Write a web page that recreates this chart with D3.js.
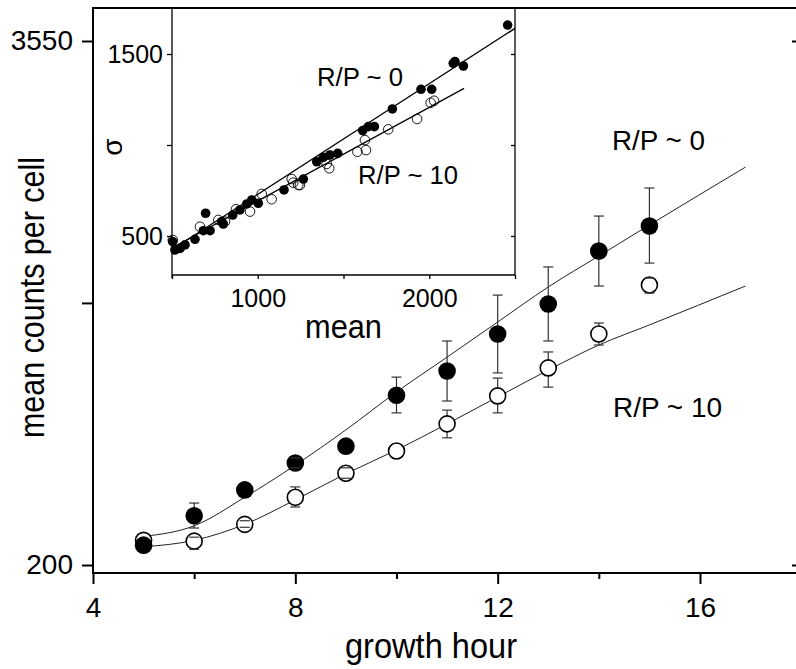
<!DOCTYPE html>
<html>
<head>
<meta charset="utf-8">
<script src="https://cdn.jsdelivr.net/npm/d3@7"></script>
<style>
  body { margin: 0; background: #fff; }
  text { font-family: "Liberation Sans", Arial, sans-serif; fill: #000; }
</style>
</head>
<body>
<div id="chart"></div>
<script>

// main plot: growth hour vs mean counts per cell
let hours = [5, 6, 7, 8, 9, 10, 11, 12, 13, 14, 15];
let meanRP0 = [223, 262, 302, 350, 384, 508, 580, 711, 838, 1121, 1286];
let lowRP0 = [null, 245, null, 341, null, 461, 492, 574, 684, 925, 1049];
let highRP0 = [null, 281, null, 360, null, 561, 684, 880, 1027, 1358, 1584];
let meanRP10 = [229, 228, 250, 290, 331, 374, 434, 506, 590, 711, 930];
let lowRP10 = [null, 218, 246, 275, 322, null, 402, 461, 531, 669, 890];
let highRP10 = [null, 233, 255, 307, 341, null, 468, 558, 644, 755, 966];

// fitted curves
let fitHours = [5, 6, 7, 8, 9, 10, 11, 12, 13, 14, 15, 16.9];
let fitRP0 = [234, 248, 290, 346, 420, 517, 626, 759, 920, 1091, 1293, 1777];
let fitRP10 = [221, 229, 250, 286, 330, 376, 434, 503, 583, 669, 747, 925];

let mainXMajor = [4, 8, 12, 16];
let mainXMinor = [6, 10, 14, 18];
let mainYTicks = [200, 843, 3550];
let mainYLabels = ["200", "", "3550"];

// inset: sigma vs mean
let insetMeanRP0 = [2457, 2140, 2150, 2199, 1952, 2014, 1785, 1612, 1645, 1680, 1466, 1421, 1382, 1344, 1266,
  1153, 1003, 965, 936, 896, 854, 799, 790, 696, 683, 722, 634, 576, 547, 517, 504];
let insetSigmaRP0 = [1659, 1449, 1458, 1434, 1306, 1306, 1198, 1079, 1101, 1101, 954, 945, 932, 908, 813,
  753, 680, 698, 676, 643, 615, 566, 579, 625, 529, 529, 482, 451, 432, 423, 469];
let insetMeanRP10 = [2028, 2008, 1929, 1761, 1625, 1631, 1581, 1417, 1402, 1246, 1207, 1198, 1236, 1081, 1023,
  955, 873, 809, 770, 663, 505];
let insetSigmaRP10 = [1243, 1232, 1143, 1086, 1027, 972, 963, 872, 896, 780, 793, 813, 780, 702, 731,
  634, 647, 579, 588, 551, 478];
let insetFitMean0 = [504, 2500];
let insetFitSigma0 = [427, 1641];
let insetFitMean10 = [504, 2203];
let insetFitSigma10 = [437, 1311];
let insetXTicks = [500, 1000, 1500, 2000, 2500];
let insetXLabels = ["", "1000", "", "2000", ""];
let insetYTicks = [500, 1000, 1500];
let insetYLabels = ["500", "", "1500"];

let width = 796;
let height = 669;
let font = "'Liberation Sans', Arial, sans-serif";

let frameLeft = 93;
let frameRight = 797;
let frameTop = 8;
let frameBottom = 573;

let svg = d3
  .select("#chart")
  .append("svg")
  .attr("width", width)
  .attr("height", height);

let xScale = d3.scaleLinear().domain([4, 16]).range([93, 700]);
let yScale = d3.scaleLog().domain([200, 3550]).range([565, 41]);

// frame
function frameLine(x1, y1, x2, y2, w) {
  svg.append("line")
    .attr("x1", x1).attr("y1", y1).attr("x2", x2).attr("y2", y2)
    .attr("stroke", "#000").attr("stroke-width", w);
}
frameLine(frameLeft, frameTop, frameLeft, frameBottom + 1, 2);
frameLine(frameLeft - 1, frameBottom, frameRight, frameBottom, 2);
frameLine(frameLeft - 1, frameTop, frameRight, frameTop, 2);
frameLine(frameRight, frameTop, frameRight, frameBottom, 2);

function styleAxis(g, size) {
  g.attr("font-size", size).attr("font-family", font);
  g.select(".domain").remove();
  g.selectAll(".tick line").attr("stroke", "#000").attr("stroke-width", 2);
}

svg.append("g")
  .attr("transform", "translate(0," + frameBottom + ")")
  .call(d3.axisBottom(xScale).tickValues(mainXMajor).tickSize(11).tickPadding(13).tickFormat(d3.format("d")))
  .call(styleAxis, 28);

svg.append("g")
  .attr("transform", "translate(0," + frameBottom + ")")
  .call(d3.axisBottom(xScale).tickValues(mainXMinor).tickSize(6).tickFormat(""))
  .call(styleAxis, 28);

svg.append("g")
  .attr("transform", "translate(" + frameLeft + ",0)")
  .call(d3.axisLeft(yScale).tickValues(mainYTicks).tickSize(11).tickPadding(9)
    .tickFormat(function(d, i) { return mainYLabels[i]; }))
  .call(styleAxis, 28);

svg.append("g")
  .attr("transform", "translate(" + frameRight + ",0)")
  .call(d3.axisLeft(yScale).tickValues([200, 3550]).tickSize(5).tickFormat(""))
  .call(styleAxis, 28);

// axis titles (glyphs in the source are a bit taller than wide)
svg.append("text")
  .attr("x", 345)
  .attr("y", 658)
  .attr("font-size", 35)
  .attr("textLength", 172)
  .attr("lengthAdjust", "spacingAndGlyphs")
  .text("growth hour");

svg.append("text")
  .attr("transform", "translate(44,438)rotate(-90)")
  .attr("font-size", 35)
  .attr("textLength", 281)
  .attr("lengthAdjust", "spacingAndGlyphs")
  .text("mean counts per cell");

// fitted curves
let fitLine = d3.line()
  .x(function(d) { return xScale(d[0]); })
  .y(function(d) { return yScale(d[1]); })
  .curve(d3.curveMonotoneX);

[fitRP0, fitRP10].forEach(function(series) {
  svg.append("path")
    .datum(fitHours.map(function(h, i) { return [h, series[i]]; }))
    .attr("d", fitLine)
    .attr("fill", "none")
    .attr("stroke", "#222")
    .attr("stroke-width", 1);
});

// error bars
let radius = 8;
let capHalf = 5;

function errorBars(means, lows, highs) {
  let rows = hours.map(function(h, i) {
    return { h: h, m: means[i], lo: lows[i], hi: highs[i] };
  }).filter(function(d) { return d.lo !== null; });

  svg.append("g").selectAll("line")
    .data(rows)
    .enter()
    .append("line")
    .attr("x1", function(d) { return xScale(d.h); })
    .attr("x2", function(d) { return xScale(d.h); })
    .attr("y1", function(d) { return yScale(d.lo); })
    .attr("y2", function(d) { return yScale(d.hi); })
    .attr("stroke", "#333")
    .attr("stroke-width", 1.2);
  return rows;
}

function errorCaps(rows) {
  let g = svg.append("g");
  rows.forEach(function(d) {
    [d.lo, d.hi].forEach(function(v) {
      g.append("line")
        .attr("x1", xScale(d.h) - capHalf)
        .attr("x2", xScale(d.h) + capHalf)
        .attr("y1", yScale(v))
        .attr("y2", yScale(v))
        .attr("stroke", "#333")
        .attr("stroke-width", 1.2);
    });
  });
}

let rows10 = errorBars(meanRP10, lowRP10, highRP10);
let rows0 = errorBars(meanRP0, lowRP0, highRP0);

svg.append("g").selectAll("circle")
  .data(hours)
  .enter()
  .append("circle")
  .attr("cx", function(d) { return xScale(d); })
  .attr("cy", function(d, i) { return yScale(meanRP10[i]); })
  .attr("r", radius)
  .attr("fill", "#fff")
  .attr("stroke", "#000")
  .attr("stroke-width", 1.6);

svg.append("g").selectAll("circle")
  .data(hours)
  .enter()
  .append("circle")
  .attr("cx", function(d) { return xScale(d); })
  .attr("cy", function(d, i) { return yScale(meanRP0[i]); })
  .attr("r", radius + 0.8)
  .attr("fill", "#000");

errorCaps(rows10);
errorCaps(rows0);

svg.append("text")
  .attr("x", 612).attr("y", 150)
  .attr("font-size", 28)
  .attr("textLength", 93)
  .attr("lengthAdjust", "spacingAndGlyphs")
  .text("R/P ~ 0");

svg.append("text")
  .attr("x", 613).attr("y", 417)
  .attr("font-size", 28)
  .attr("textLength", 109)
  .attr("lengthAdjust", "spacingAndGlyphs")
  .text("R/P ~ 10");

// ---------- inset ----------
let insetLeft = 172;
let insetRight = 515;
let insetBottom = 275;

let insetX = d3.scaleLinear().domain([500, 2500]).range([insetLeft, insetRight]);
let insetY = d3.scaleLinear().domain([500, 1500]).range([236, 54]);

let inset = svg.append("g");

inset.append("rect")
  .attr("x", insetLeft)
  .attr("y", frameTop + 1)
  .attr("width", insetRight - insetLeft)
  .attr("height", insetBottom - frameTop - 1)
  .attr("fill", "#fff");

function insetLine(x1, y1, x2, y2) {
  inset.append("line")
    .attr("x1", x1).attr("y1", y1).attr("x2", x2).attr("y2", y2)
    .attr("stroke", "#000").attr("stroke-width", 1.3);
}
insetLine(insetLeft, frameTop, insetLeft, insetBottom + 3);
insetLine(insetRight, frameTop, insetRight, insetBottom);
insetLine(insetLeft, insetBottom, insetRight, insetBottom);

function styleInsetAxis(g) {
  g.attr("font-size", 25).attr("font-family", font);
  g.select(".domain").remove();
  g.selectAll(".tick line").attr("stroke", "#000").attr("stroke-width", 1.3);
}

inset.append("g")
  .attr("transform", "translate(0," + insetBottom + ")")
  .call(d3.axisBottom(insetX).tickValues(insetXTicks).tickSize(4).tickPadding(10)
    .tickFormat(function(d, i) { return insetXLabels[i]; }))
  .call(styleInsetAxis);

inset.append("g")
  .attr("transform", "translate(" + insetLeft + ",0)")
  .call(d3.axisLeft(insetY).tickValues(insetYTicks).tickSize(5).tickPadding(4)
    .tickFormat(function(d, i) { return insetYLabels[i]; }))
  .call(styleInsetAxis);

inset.append("g")
  .attr("transform", "translate(" + insetRight + ",0)")
  .call(d3.axisLeft(insetY).tickValues(insetYTicks).tickSize(4).tickFormat(""))
  .call(styleInsetAxis);

inset.append("text")
  .attr("x", 305).attr("y", 338)
  .attr("font-size", 34)
  .attr("textLength", 77)
  .attr("lengthAdjust", "spacingAndGlyphs")
  .text("mean");

inset.append("text")
  .attr("transform", "translate(122,147)rotate(-90)")
  .attr("text-anchor", "middle")
  .attr("font-size", 28)
  .text("σ");

inset.append("g").selectAll("circle")
  .data(insetMeanRP0)
  .enter()
  .append("circle")
  .attr("cx", function(d) { return insetX(d); })
  .attr("cy", function(d, i) { return insetY(insetSigmaRP0[i]); })
  .attr("r", 4.8)
  .attr("fill", "#000");

inset.append("g").selectAll("circle")
  .data(insetMeanRP10)
  .enter()
  .append("circle")
  .attr("cx", function(d) { return insetX(d); })
  .attr("cy", function(d, i) { return insetY(insetSigmaRP10[i]); })
  .attr("r", 4.8)
  .attr("fill", "none")
  .attr("stroke", "#000")
  .attr("stroke-width", 0.9);

[[insetFitMean0, insetFitSigma0], [insetFitMean10, insetFitSigma10]].forEach(function(fit) {
  inset.append("line")
    .attr("x1", insetX(fit[0][0]))
    .attr("y1", insetY(fit[1][0]))
    .attr("x2", insetX(fit[0][1]))
    .attr("y2", insetY(fit[1][1]))
    .attr("stroke", "#000")
    .attr("stroke-width", 1.3);
});

inset.append("text")
  .attr("x", 317).attr("y", 86)
  .attr("font-size", 26)
  .attr("textLength", 86)
  .attr("lengthAdjust", "spacingAndGlyphs")
  .text("R/P ~ 0");

inset.append("text")
  .attr("x", 358).attr("y", 184)
  .attr("font-size", 26)
  .attr("textLength", 100)
  .attr("lengthAdjust", "spacingAndGlyphs")
  .text("R/P ~ 10");

</script>
</body>
</html>
